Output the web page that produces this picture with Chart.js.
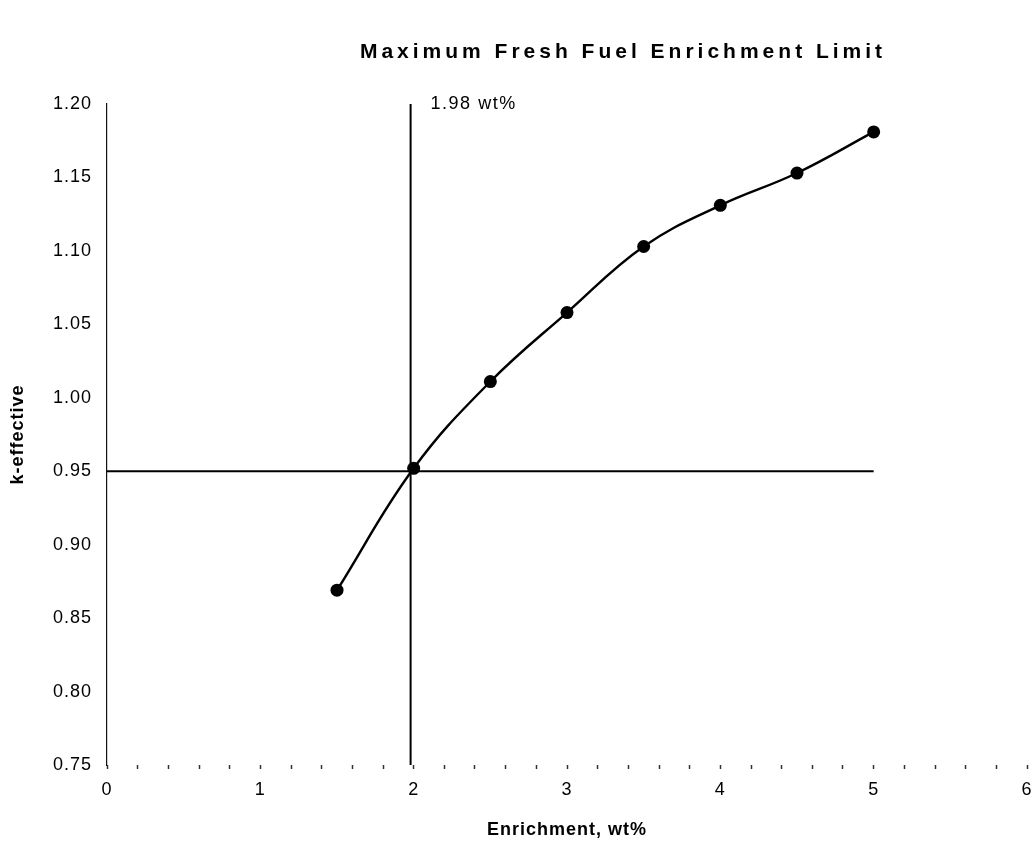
<!DOCTYPE html>
<html>
<head>
<meta charset="utf-8">
<script src="https://cdn.jsdelivr.net/npm/chart.js@4.4.1/dist/chart.umd.min.js"></script>
<style>
  html, body { margin: 0; padding: 0; background: #fff; }
  #wrap { width: 1035px; height: 843px; }
</style>
</head>
<body>
<div id="wrap"><canvas id="myChart" width="1035" height="843"></canvas></div>
<script>
// k-effective vs. fresh fuel enrichment
const enrichment = [1.5, 2, 2.5, 3, 3.5, 4, 4.5, 5];
const kEffective = [0.869, 0.952, 1.011, 1.058, 1.103, 1.131, 1.153, 1.181];

// limits
const kLimit = 0.95;
const enrichmentLimit = 1.98;
const limitLabel = '1.98 wt%';

const chartTitle = 'Maximum Fresh Fuel Enrichment Limit';
const xTitle = 'Enrichment, wt%';
const yTitle = 'k-effective';

const FONT = 'Arial, "Liberation Sans", Helvetica, sans-serif';

const toPoints = (xs, ys) => xs.map((x, i) => ({ x, y: ys[i] }));

// title + the "1.98 wt%" tag next to the vertical limit line
const annotations = {
  id: 'annotations',
  beforeDraw(chart) {
    chart.ctx.letterSpacing = '1px';
  },
  afterDraw(chart) {
    const { ctx, scales: { x, y } } = chart;
    ctx.save();
    ctx.fillStyle = '#000';
    ctx.textBaseline = 'middle';

    ctx.font = `bold 21px ${FONT}`;
    ctx.letterSpacing = '4px';
    ctx.textAlign = 'center';
    ctx.fillText(chartTitle, 623, 52);

    ctx.font = `18px ${FONT}`;
    ctx.letterSpacing = '1.5px';
    ctx.textAlign = 'left';
    ctx.fillText(limitLabel, x.getPixelForValue(enrichmentLimit) + 20, y.getPixelForValue(1.2));
    ctx.restore();
  },
};

const ctx = document.getElementById('myChart');

new Chart(ctx, {
  type: 'line',
  data: {
    datasets: [
      {
        data: toPoints(enrichment, kEffective),
        borderColor: '#000',
        borderWidth: 2.4,
        backgroundColor: '#000',
        pointRadius: 6.5,
        pointBackgroundColor: '#000',
        pointBorderWidth: 0,
        tension: 0.4,
        clip: false,
      },
      {
        data: [{ x: 0, y: kLimit }, { x: 5, y: kLimit }],
        borderColor: '#000',
        borderWidth: 2,
        pointRadius: 0,
        clip: false,
      },
      {
        data: [{ x: enrichmentLimit, y: 0.75 }, { x: enrichmentLimit, y: 1.2 }],
        borderColor: '#000',
        borderWidth: 2,
        pointRadius: 0,
        clip: false,
      },
    ],
  },
  options: {
    responsive: false,
    animation: false,
    events: [],
    layout: {
      padding: { top: 104, right: 8, left: 0, bottom: 0 },
    },
    plugins: {
      legend: { display: false },
      tooltip: { enabled: false },
      title: { display: false },
    },
    scales: {
      x: {
        type: 'linear',
        min: 0,
        max: 6,
        afterFit: scale => {
          scale.height = 78;
          scale.paddingLeft = 0;
          scale.paddingRight = 0;
        },
        ticks: {
          stepSize: 0.2,
          autoSkip: false,
          maxRotation: 0,
          padding: 10,
          color: '#000',
          font: { family: FONT, size: 18 },
          callback: v => (Math.abs(v - Math.round(v)) < 1e-6 ? String(Math.round(v)) : ''),
        },
        grid: {
          drawOnChartArea: false,
          tickLength: 4,
          tickColor: '#333',
          tickWidth: 1.5,
        },
        border: { display: false },
        title: {
          display: true,
          text: xTitle,
          color: '#000',
          font: { family: FONT, size: 18, weight: 'bold' },
          padding: { top: 0, bottom: 2 },
        },
      },
      y: {
        min: 0.75,
        max: 1.2,
        afterFit: scale => {
          scale.width = 107;
        },
        ticks: {
          stepSize: 0.05,
          precision: 2,
          padding: 15,
          color: '#000',
          font: { family: FONT, size: 18 },
          callback: v => v.toFixed(2),
        },
        grid: {
          drawOnChartArea: false,
          drawTicks: false,
        },
        border: { display: true, color: '#111', width: 1.2, dash: [1, 2] },
        title: {
          display: true,
          text: yTitle,
          color: '#000',
          font: { family: FONT, size: 18, weight: 'bold' },
          padding: { top: 7, bottom: 0 },
        },
      },
    },
  },
  plugins: [annotations],
});
</script>
</body>
</html>
